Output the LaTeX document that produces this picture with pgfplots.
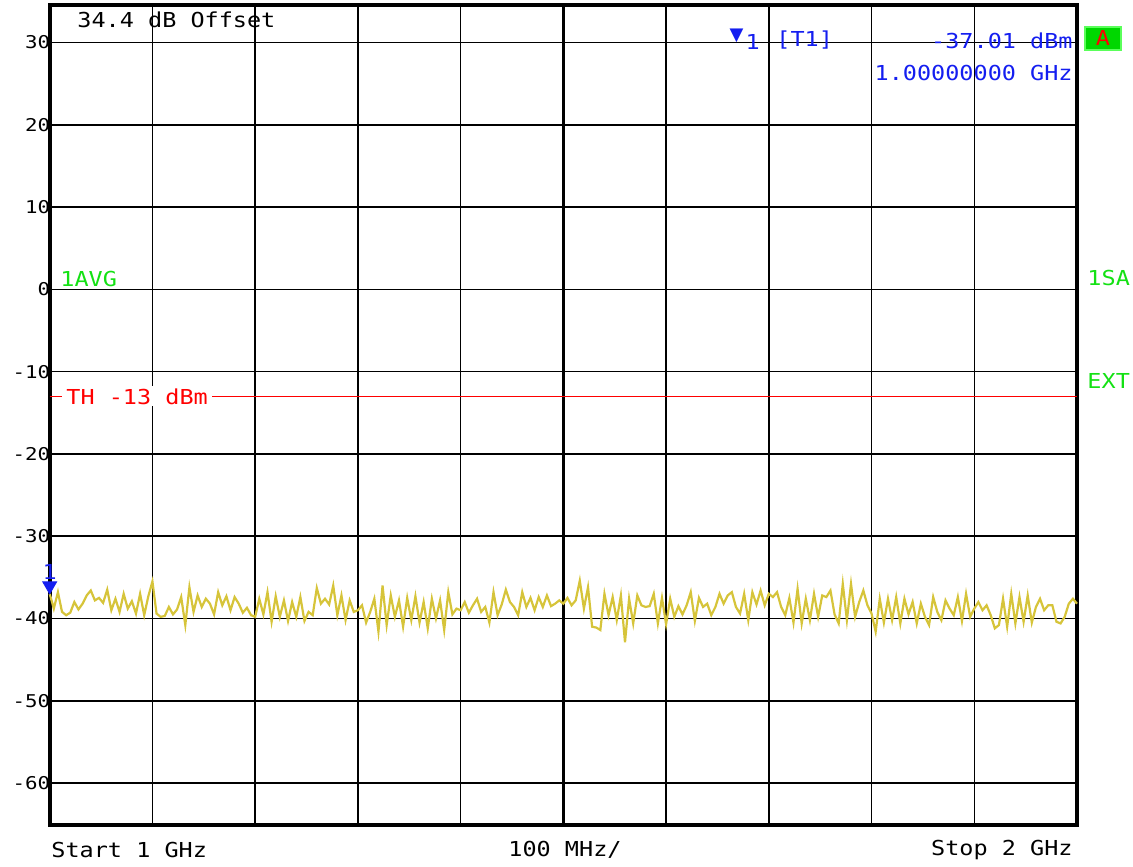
\documentclass[border=0pt]{standalone}
\usepackage{fontspec}
\usepackage{pgfplots}
\usepackage{pgfplotstable}
\pgfplotsset{compat=1.18}

\newfontfamily\rsfont[FakeStretch=1.14]{DejaVu Sans Mono}
\newfontfamily\rstick[FakeStretch=1.18]{DejaVu Sans Mono}
\newfontfamily\symfont{DejaVu Sans}
\newcommand\rs{\fontsize{10.3}{12}\rsfont}

\definecolor{trace}{RGB}{214,196,58}
\definecolor{mkblue}{RGB}{20,30,240}
\definecolor{stgreen}{RGB}{20,225,20}
\definecolor{boxgreen}{RGB}{0,215,0}
\definecolor{boxedge}{RGB}{90,255,90}

% averaged trace, frequency in MHz, level in dBm
\pgfplotstableread{
f p
1000 -37.0
1004 -38.8
1008 -36.8
1012 -39.2
1016 -39.6
1020 -39.3
1024 -38.0
1028 -38.9
1032 -38.2
1036 -37.2
1040 -36.6
1044 -37.8
1048 -37.5
1052 -38.1
1056 -36.5
1060 -39.0
1064 -37.6
1068 -39.2
1072 -37.0
1076 -38.8
1080 -37.9
1084 -39.4
1088 -37.0
1092 -39.6
1096 -37.3
1100 -35.5
1104 -39.4
1108 -39.8
1112 -39.7
1116 -38.6
1120 -39.5
1124 -38.9
1128 -37.4
1132 -40.8
1136 -36.2
1140 -39.2
1144 -37.2
1148 -38.6
1152 -37.6
1156 -38.2
1160 -39.5
1164 -36.8
1168 -38.4
1172 -37.3
1176 -39.0
1180 -37.4
1184 -38.2
1188 -39.3
1192 -38.7
1196 -39.6
1200 -39.8
1204 -37.6
1208 -39.5
1212 -36.8
1216 -40.4
1220 -37.3
1224 -39.8
1228 -37.8
1232 -40.3
1236 -38.0
1240 -39.8
1244 -37.4
1248 -40.3
1252 -39.2
1256 -39.6
1260 -36.3
1264 -38.2
1268 -37.6
1272 -38.3
1276 -36.0
1280 -39.6
1284 -37.2
1288 -40.2
1292 -37.8
1296 -39.2
1300 -39.0
1304 -38.4
1308 -40.5
1312 -39.2
1316 -37.6
1320 -41.6
1324 -36.0
1328 -40.8
1332 -37.2
1336 -39.8
1340 -37.8
1344 -41.0
1348 -37.5
1352 -40.2
1356 -37.3
1360 -40.5
1364 -38.0
1368 -41.2
1372 -37.6
1376 -40.0
1380 -37.8
1384 -41.4
1388 -36.8
1392 -39.5
1396 -38.8
1400 -39.0
1404 -38.0
1408 -39.3
1412 -38.4
1416 -37.6
1420 -39.2
1424 -38.6
1428 -40.5
1432 -36.8
1436 -39.6
1440 -38.3
1444 -36.5
1448 -38.0
1452 -38.6
1456 -39.6
1460 -36.8
1464 -38.6
1468 -37.5
1472 -39.0
1476 -37.4
1480 -38.6
1484 -37.2
1488 -38.5
1492 -38.2
1496 -37.8
1500 -38.2
1504 -37.5
1508 -38.4
1512 -37.8
1516 -35.4
1520 -38.8
1524 -36.2
1528 -41.0
1532 -41.1
1536 -41.4
1540 -37.0
1544 -39.6
1548 -37.4
1552 -40.2
1556 -37.2
1560 -42.9
1564 -37.6
1568 -40.6
1572 -37.2
1576 -38.4
1580 -38.6
1584 -38.5
1588 -37.0
1592 -40.6
1596 -37.5
1600 -40.7
1604 -37.6
1608 -39.8
1612 -38.5
1616 -39.5
1620 -38.4
1624 -36.8
1628 -40.3
1632 -37.5
1636 -38.6
1640 -38.2
1644 -39.6
1648 -38.6
1652 -37.0
1656 -38.2
1660 -37.2
1664 -36.8
1668 -38.6
1672 -39.4
1676 -37.0
1680 -40.2
1684 -36.8
1688 -38.3
1692 -36.6
1696 -38.4
1700 -37.0
1704 -37.4
1708 -36.8
1712 -38.6
1716 -39.6
1720 -37.5
1724 -40.5
1728 -36.4
1732 -40.6
1736 -37.6
1740 -40.2
1744 -37.0
1748 -39.8
1752 -37.2
1756 -37.4
1760 -36.6
1764 -39.5
1768 -40.6
1772 -35.8
1776 -40.2
1780 -35.8
1784 -39.8
1788 -38.0
1792 -36.6
1796 -38.4
1800 -39.4
1804 -41.6
1808 -37.6
1812 -40.5
1816 -37.6
1820 -40.2
1824 -37.4
1828 -40.6
1832 -37.6
1836 -39.5
1840 -38.0
1844 -40.6
1848 -38.2
1852 -39.8
1856 -40.8
1860 -37.4
1864 -39.2
1868 -40.2
1872 -37.8
1876 -38.8
1880 -39.6
1884 -37.4
1888 -40.3
1892 -37.0
1896 -39.8
1900 -38.8
1904 -38.0
1908 -39.0
1912 -38.4
1916 -39.6
1920 -41.2
1924 -40.8
1928 -37.6
1932 -41.0
1936 -37.0
1940 -40.6
1944 -37.4
1948 -40.4
1952 -37.2
1956 -40.5
1960 -38.6
1964 -37.6
1968 -39.0
1972 -38.4
1976 -38.4
1980 -40.4
1984 -40.6
1988 -39.8
1992 -38.2
1996 -37.6
2000 -38.2
}\tracedata

\begin{document}
\begin{tikzpicture}
\path (0,0) rectangle (566.5pt,433pt);
\begin{axis}[
  at={(24.85pt,20.5pt)}, anchor=south west,
  scale only axis, width=513.65pt, height=410.15pt,
  xmin=1000, xmax=2000, ymin=-65.1, ymax=34.6,
  xtick={1000,1100,...,2000}, xticklabel=\empty,
  ytick={-60,-50,...,30},
  yticklabels={-60,-50,-40,-30,-20,-10,0,10,20,30},
  major tick length=0pt,
  grid=major,
  major grid style={black, line width=0.75pt},
  axis line style={black, line width=2pt},
  yticklabel style={font=\fontsize{8.8}{10}\rstick, anchor=east, inner sep=0pt, xshift=0.4pt},
  clip=false,
]
% centre graticule line
\addplot[black, line width=1.6pt, forget plot] coordinates {(1500,-65.1) (1500,34.6)};

% threshold line
\addplot[red, line width=0.8pt] coordinates {(1000,-13) (2000,-13)};
\node[fill=white, text=red, font=\rs, inner xsep=2pt, inner ysep=1pt, anchor=west]
  at (axis cs:1012,-13) {TH -13 dBm};

% trace
\addplot[trace, line width=1.1pt] table[x=f, y=p] {\tracedata};

% marker 1
\addplot[only marks, mark=triangle*, mark size=4pt,
  mark options={yshift=4pt, rotate=180, fill=mkblue, draw=mkblue}]
  coordinates {(1000,-37.01)};
\node[font=\rs, text=mkblue, inner sep=0pt] at (axis cs:1000,-34.4) {1};

% header texts
\node[anchor=west, font=\rs, inner sep=0pt] at (axis cs:1026.6,32.8) {34.4 dB Offset};
\node[font=\fontsize{9}{9}\symfont, text=mkblue, inner sep=0pt] at (axis cs:1668.5,30.8) {▼};
\node[anchor=west, font=\rs, text=mkblue, inner sep=0pt] at (axis cs:1677,30.1) {1};
\node[anchor=west, font=\rs, text=mkblue, inner sep=0pt] at (axis cs:1707,30.25) {[T1]};
\node[anchor=east, font=\rs, text=mkblue, inner sep=0pt] at (axis cs:1996.1,30.25) {-37.01 dBm};
\node[anchor=east, font=\rs, text=mkblue, inner sep=0pt] at (axis cs:1996.1,26.24) {1.00000000 GHz};

% status box and side labels
\node[draw=boxedge, fill=boxgreen, line width=0.8pt, text=red, font=\rs,
  minimum width=18pt, minimum height=11.5pt, inner sep=0pt]
  at (axis cs:2025.3,30.5) {A};
\node[anchor=west, font=\rs, text=stgreen, inner sep=0pt] at (axis cs:1010,1.3) {1AVG};
\node[anchor=west, font=\rs, text=stgreen, inner sep=0pt] at (axis cs:2009.8,1.4) {1SA};
\node[anchor=west, font=\rs, text=stgreen, inner sep=0pt] at (axis cs:2009.8,-11.1) {EXT};

% frequency annotations
\node[anchor=west, font=\rs, inner sep=0pt] at (axis cs:1001.3,-68.15) {Start 1 GHz};
\node[font=\rs, inner sep=0pt] at (axis cs:1501.6,-68.15) {100 MHz/};
\node[anchor=east, font=\rs, inner sep=0pt] at (axis cs:1996.1,-68.15) {Stop 2 GHz};
\end{axis}
\end{tikzpicture}
\end{document}
